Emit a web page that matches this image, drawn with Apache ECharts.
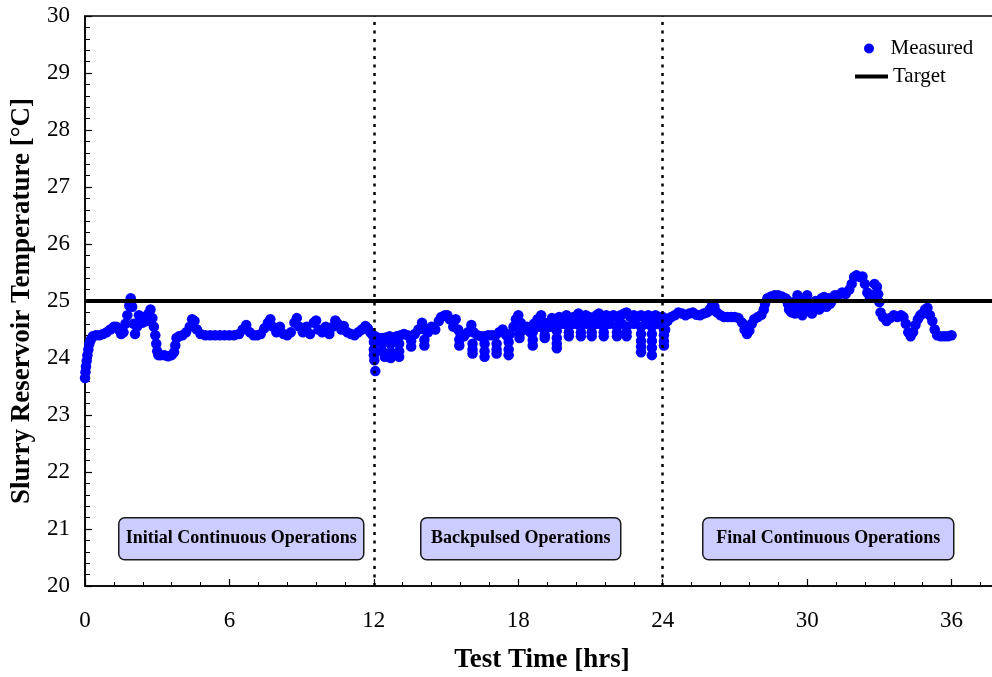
<!DOCTYPE html>
<html>
<head>
<meta charset="utf-8">
<script src="https://cdn.jsdelivr.net/npm/echarts@6/dist/echarts.min.js"></script>
<style>
html,body{margin:0;padding:0;background:#fff;overflow:hidden;}
#wrap{width:992px;height:677px;overflow:hidden;position:relative;}
#chart{width:1100px;height:677px;}
</style>
</head>
<body>
<div id="wrap"><div id="chart"></div></div>
<script>
// ---- Data ----
const initialTimes = [0.00,0.02,0.04,0.07,0.10,0.14,0.18,0.24,0.32,0.45,0.6,0.75,0.9,1.05,1.2,1.3,1.4,1.5,1.6,1.68,1.76,1.84,1.9,1.96,2.02,2.08,2.16,2.24,2.32,2.4,2.48,2.56,2.64,2.72,2.8,2.86,2.92,2.96,3.0,3.05,3.15,3.3,3.45,3.6,3.7,3.75,3.8,3.9,4.05,4.2,4.35,4.45,4.55,4.65,4.8,5.0,5.2,5.4,5.6,5.8,6.0,6.2,6.4,6.55,6.7,6.85,7.0,7.15,7.3,7.45,7.6,7.7,7.8,7.95,8.1,8.25,8.4,8.55,8.7,8.8,8.9,9.05,9.2,9.35,9.5,9.6,9.7,9.85,10.0,10.15,10.3,10.4,10.5,10.65,10.75,10.9,11.05,11.2,11.35,11.5,11.65,11.75,11.85,11.95];
const initialTemps = [23.65,23.75,23.85,23.95,24.05,24.15,24.25,24.32,24.38,24.4,24.4,24.42,24.45,24.5,24.55,24.55,24.5,24.42,24.45,24.6,24.75,24.92,25.05,24.9,24.6,24.42,24.55,24.75,24.72,24.62,24.72,24.65,24.78,24.85,24.7,24.55,24.4,24.25,24.12,24.05,24.05,24.05,24.03,24.05,24.1,24.22,24.35,24.38,24.4,24.45,24.55,24.68,24.65,24.5,24.42,24.4,24.4,24.4,24.4,24.4,24.4,24.4,24.42,24.5,24.58,24.45,24.4,24.4,24.42,24.52,24.62,24.68,24.55,24.45,24.55,24.42,24.4,24.45,24.62,24.7,24.55,24.45,24.55,24.42,24.62,24.66,24.5,24.45,24.55,24.42,24.55,24.66,24.6,24.5,24.56,24.45,24.42,24.4,24.45,24.5,24.56,24.52,24.45,24.4];

const backpulsedTimes = [12.05,12.2,12.35,12.5,12.65,12.8,12.95,13.1,13.25,13.4,13.55,13.7,13.85,14.0,14.1,14.25,14.4,14.55,14.7,14.8,14.95,15.05,15.15,15.3,15.4,15.5,15.6,15.75,15.9,16.05,16.15,16.3,16.45,16.6,16.75,16.9,17.05,17.2,17.35,17.5,17.65,17.8,17.9,18.0,18.1,18.2,18.35,18.5,18.65,18.8,18.95,19.1,19.25,19.4,19.55,19.7,19.85,20.0,20.15,20.3,20.5,20.65,20.8,20.95,21.1,21.25,21.35,21.5,21.65,21.8,21.95,22.1,22.25,22.4,22.5,22.65,22.8,22.95,23.1,23.25,23.4,23.55,23.7,23.85,24.0];
const backpulsedTemps = [24.38,24.35,24.35,24.36,24.38,24.36,24.38,24.4,24.42,24.4,24.38,24.42,24.5,24.62,24.5,24.45,24.55,24.5,24.65,24.72,24.75,24.75,24.68,24.55,24.68,24.5,24.42,24.38,24.45,24.58,24.45,24.4,24.38,24.38,24.4,24.4,24.4,24.45,24.5,24.4,24.42,24.55,24.68,24.75,24.62,24.5,24.55,24.45,24.6,24.68,24.75,24.62,24.55,24.7,24.6,24.72,24.68,24.75,24.65,24.72,24.78,24.7,24.75,24.72,24.7,24.75,24.78,24.72,24.75,24.72,24.75,24.72,24.75,24.78,24.8,24.72,24.75,24.72,24.75,24.72,24.75,24.72,24.75,24.72,24.72];

// scattered low readings during backpulsing
const spreadTimes = [12.0,12.0,12.0,12.02,12.06,12.35,12.35,12.45,12.7,12.7,12.7,13.05,13.05,13.05,13.55,13.55,14.1,14.1,15.55,15.55,16.1,16.1,16.1,16.6,16.6,16.6,17.1,17.1,17.1,17.6,17.6,17.6,18.05,18.05,18.6,18.6,18.6,19.1,19.1,19.1,19.6,19.6,19.6,19.6,20.1,20.1,20.1,20.6,20.6,20.6,21.05,21.05,21.05,21.55,21.55,21.55,22.1,22.1,22.1,22.5,22.5,22.5,23.1,23.1,23.1,23.1,23.1,23.55,23.55,23.55,23.55,23.55,24.05,24.05,24.05,24.05,24.05,18.35,18.85,19.35,19.85,20.35,20.85,21.3,21.8,22.3,22.8,23.3,23.8];
const spreadTemps = [24.28,24.15,24.05,23.96,23.77,24.25,24.12,24.02,24.25,24.1,24.0,24.25,24.12,24.02,24.3,24.2,24.32,24.22,24.32,24.22,24.25,24.15,24.08,24.25,24.12,24.02,24.25,24.15,24.08,24.28,24.15,24.05,24.42,24.35,24.45,24.32,24.22,24.5,24.4,24.35,24.48,24.35,24.25,24.17,24.55,24.45,24.38,24.55,24.45,24.38,24.55,24.45,24.38,24.55,24.45,24.38,24.55,24.45,24.38,24.55,24.45,24.38,24.55,24.42,24.3,24.2,24.1,24.55,24.42,24.3,24.18,24.05,24.6,24.5,24.4,24.3,24.22,24.5,24.55,24.55,24.6,24.6,24.6,24.6,24.6,24.6,24.6,24.6,24.6];

const finalTimes = [24.1,24.2,24.35,24.5,24.65,24.8,24.95,25.1,25.25,25.4,25.55,25.7,25.85,25.95,26.05,26.15,26.25,26.4,26.55,26.7,26.85,27.0,27.15,27.3,27.4,27.5,27.6,27.7,27.8,27.95,28.1,28.2,28.25,28.35,28.5,28.65,28.8,28.95,29.1,29.2,29.3,29.4,29.5,29.6,29.7,29.8,29.9,30.0,30.1,30.2,30.3,30.45,30.6,30.7,30.85,30.95,31.05,31.15,31.3,31.45,31.6,31.75,31.85,31.95,32.05,32.2,32.3,32.4,32.5,32.6,32.7,32.8,32.9,32.95,33.0,33.05,33.15,33.3,33.45,33.6,33.75,33.9,34.0,34.1,34.2,34.3,34.4,34.5,34.6,34.7,34.8,34.9,35.0,35.1,35.2,35.3,35.4,35.55,35.7,35.85,36.0];
const finalTemps = [24.5,24.65,24.72,24.75,24.8,24.78,24.75,24.78,24.8,24.76,24.75,24.78,24.8,24.85,24.92,24.9,24.8,24.75,24.72,24.72,24.72,24.72,24.7,24.62,24.5,24.42,24.48,24.6,24.68,24.72,24.76,24.85,24.95,25.05,25.08,25.1,25.1,25.08,25.05,24.95,24.88,24.98,24.78,25.1,24.85,24.75,24.95,25.1,24.9,24.78,24.85,24.95,25.05,25.07,25.0,24.95,25.05,25.1,25.1,25.15,25.12,25.2,25.3,25.42,25.45,25.42,25.43,25.3,25.15,25.08,25.1,25.3,25.25,25.12,24.98,24.8,24.72,24.65,24.7,24.75,24.72,24.75,24.72,24.6,24.45,24.38,24.45,24.58,24.68,24.75,24.78,24.85,24.88,24.75,24.65,24.5,24.4,24.38,24.38,24.38,24.4];

// extra readings in the fluctuating band of the final phase
const finalSpreadTimes = [29.15,29.25,29.35,29.45,29.55,29.65,29.75,29.85,29.95,30.05,30.15,30.25,30.35,30.5,30.65,30.8,30.9,31.0];
const finalSpreadTemps = [25.02,24.85,24.8,24.9,24.95,24.95,24.85,24.82,25.02,24.98,24.82,24.95,25.0,24.85,24.95,24.9,25.05,24.98];

const targetTimes = [0, 42];
const targetTemps = [25, 25];
const phaseBoundaries = [12, 24];
const phaseLabels = ['Initial Continuous Operations', 'Backpulsed Operations', 'Final Continuous Operations'];

// ---- Build series data ----
function zip(ts, vs) { return ts.map((t, i) => [t, vs[i]]); }
const measured = [].concat(
  zip(initialTimes, initialTemps),
  zip(backpulsedTimes, backpulsedTemps),
  zip(spreadTimes, spreadTemps),
  zip(finalTimes, finalTemps),
  zip(finalSpreadTimes, finalSpreadTemps)
);
const target = zip(targetTimes, targetTemps);

const FONT = "'Liberation Serif', 'Times New Roman', serif";
const chart = echarts.init(document.getElementById('chart'), null, {renderer: 'canvas'});

const boxes = [
  {x: 118, w: 245, label: phaseLabels[0]},
  {x: 420, w: 200, label: phaseLabels[1]},
  {x: 702, w: 251, label: phaseLabels[2]}
];

const option = {
  backgroundColor: '#fff',
  animation: false,
  grid: {left: 85, top: 16, right: 4, bottom: 91, outerBoundsMode: 'none', containLabel: false,
         show: true, borderColor: '#000', borderWidth: 1.5, backgroundColor: 'transparent'},
  legend: [
    {
      data: [{name: 'Measured', icon: 'circle'}],
      left: 864, top: 38,
      itemWidth: 33, itemHeight: 10, padding: 0,
      textStyle: {fontFamily: FONT, fontSize: 21, color: '#000'}
    },
    {
      data: [{name: 'Target', icon: 'rect'}],
      left: 855, top: 66,
      itemWidth: 33, itemHeight: 4, padding: 0,
      textStyle: {fontFamily: FONT, fontSize: 21, color: '#000'}
    }
  ],
  xAxis: {
    type: 'value', min: 0, max: 42, interval: 6,
    axisLine: {lineStyle: {color: '#000', width: 1.5}},
    axisTick: {inside: true, length: 7, lineStyle: {color: '#000', width: 1.2}},
    minorTick: {show: true, splitNumber: 5, length: 4, lineStyle: {color: '#000', width: 1}},
    splitLine: {show: false},
    axisLabel: {fontFamily: FONT, fontSize: 23, color: '#000', margin: 23}
  },
  yAxis: {
    type: 'value', min: 20, max: 30, interval: 1,
    name: 'Slurry Reservoir Temperature [°C]', nameLocation: 'middle', nameGap: 49,
    nameTextStyle: {fontFamily: FONT, fontSize: 27, fontWeight: 'bold', color: '#000'},
    axisLine: {lineStyle: {color: '#000', width: 1.5}},
    axisTick: {inside: true, length: 7, lineStyle: {color: '#000', width: 1.2}},
    minorTick: {show: true, splitNumber: 5, length: 5, lineStyle: {color: '#000', width: 1}},
    splitLine: {show: false},
    axisLabel: {fontFamily: FONT, fontSize: 23, color: '#000', margin: 15}
  },
  series: [
    {
      name: 'Measured', type: 'scatter', data: measured,
      symbol: 'circle', symbolSize: 10.5, z: 2,
      itemStyle: {color: '#0000ff', opacity: 1},
      markLine: {
        silent: true, symbol: 'none', z: 6,
        label: {show: false},
        lineStyle: {color: '#000', width: 2.5, type: [3, 5.5]},
        data: phaseBoundaries.map(b => ({xAxis: b}))
      }
    },
    {
      name: 'Target', type: 'line', data: target,
      symbol: 'none', showSymbol: false, z: 4,
      lineStyle: {color: '#000', width: 4},
      itemStyle: {color: '#000'}
    }
  ],
  graphic: [
    {type: 'text', x: 542, y: 660, z: 10,
     style: {text: 'Test Time [hrs]', textAlign: 'center', textVerticalAlign: 'middle',
             font: 'bold 27px ' + FONT, fill: '#000'}}
  ].concat(boxes.map(b => ({
    type: 'group', left: b.x, top: 517, z: 10,
    children: [
      {type: 'rect', shape: {x: 0, y: 0, width: b.w, height: 42, r: 6},
       style: {fill: '#ccccff', stroke: '#1a1a1a', lineWidth: 1.5}},
      {type: 'text', x: b.w / 2, y: 21,
       style: {text: b.label, textAlign: 'center', textVerticalAlign: 'middle',
               font: 'bold 18px ' + FONT, fill: '#000'}}
    ]
  })))
};
chart.setOption(option);
</script>
</body>
</html>
